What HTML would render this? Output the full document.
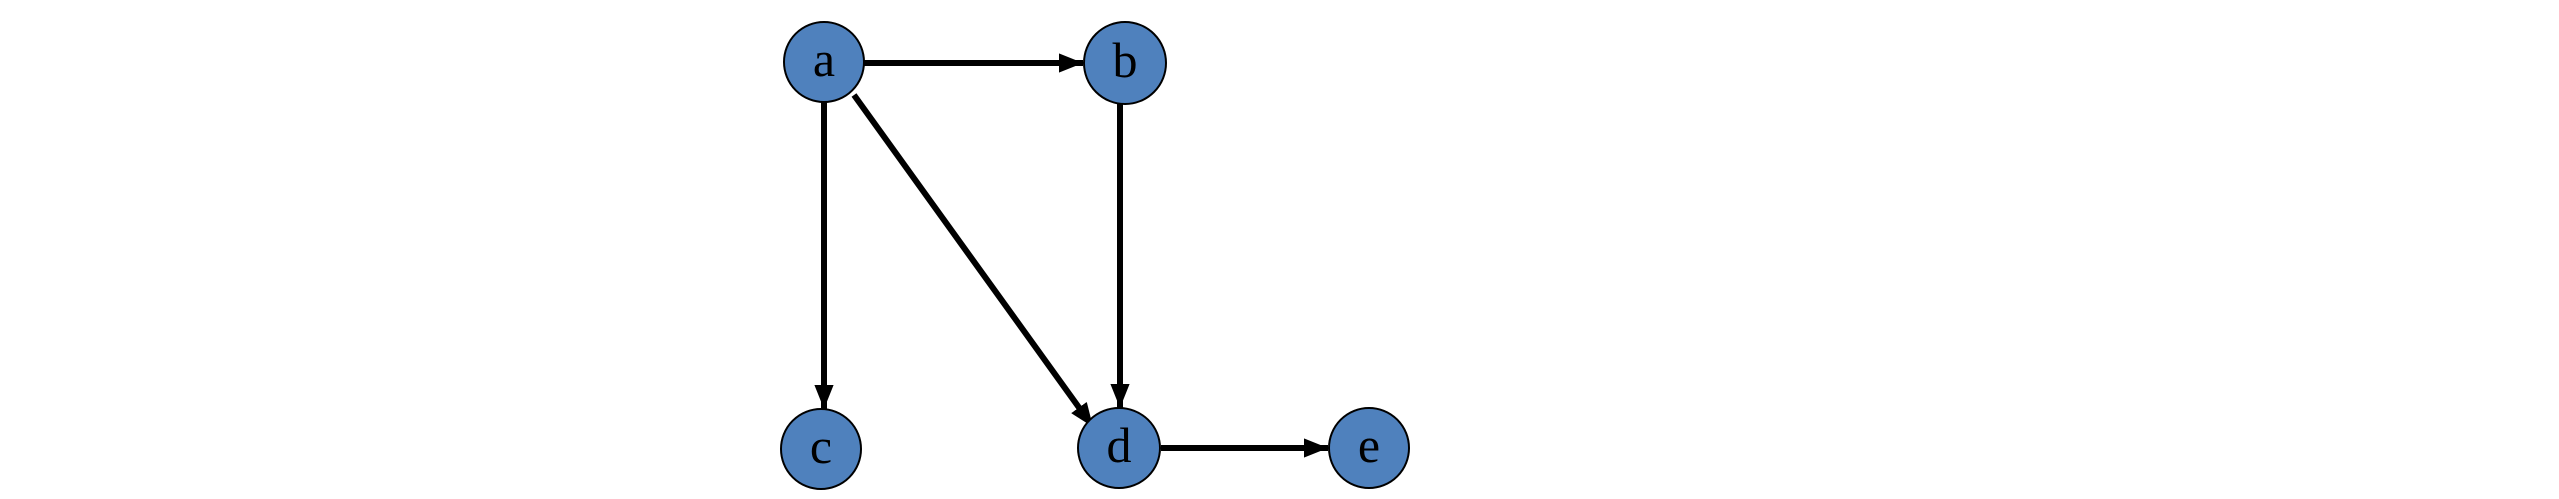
<!DOCTYPE html>
<html><head><meta charset="utf-8"><style>html,body{margin:0;padding:0;background:#fff;}svg{display:block}</style></head>
<body>
<svg width="2559" height="499" viewBox="0 0 2559 499" xmlns="http://www.w3.org/2000/svg">
<defs><marker id="ar" markerWidth="4" markerHeight="3.2" refX="4" refY="1.6" orient="auto" markerUnits="strokeWidth"><path d="M0,0 L4,1.6 L0,3.2 z" fill="#000"/></marker></defs>
<g stroke="#000" stroke-width="6" fill="none" marker-end="url(#ar)">
<line x1="864" y1="63" x2="1083" y2="63"/>
<line x1="824" y1="102" x2="824" y2="409"/>
<line x1="1120" y1="104" x2="1120" y2="408"/>
<line x1="854" y1="95" x2="1093" y2="427"/>
<line x1="1161" y1="448" x2="1328" y2="448"/>
</g>
<g fill="#4f81bd" stroke="#000" stroke-width="2">
<ellipse cx="824" cy="62" rx="40" ry="40"/>
<ellipse cx="1125" cy="63" rx="41" ry="41"/>
<ellipse cx="821" cy="449" rx="40" ry="40"/>
<ellipse cx="1119" cy="448" rx="41" ry="40"/>
<ellipse cx="1369" cy="448" rx="40" ry="40"/>
</g>
<g font-family="Liberation Serif, serif" font-size="50" fill="#000" text-anchor="middle">
<text x="824" y="76">a</text>
<text x="1125" y="77">b</text>
<text x="821" y="463">c</text>
<text x="1119" y="462">d</text>
<text x="1369" y="462">e</text>
</g>
</svg>
</body></html>
